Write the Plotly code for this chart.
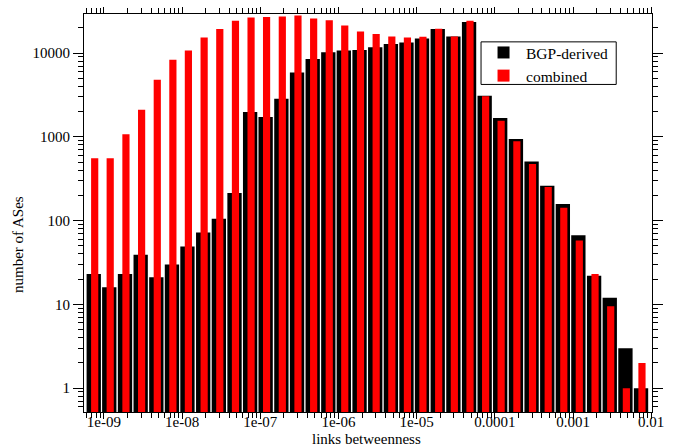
import numpy as np
import plotly.graph_objects as go

# bin centres of links betweenness (log-spaced, 5 per decade)
bin_centers = [7.41e-10, 1.17e-9, 1.86e-9, 2.95e-9, 4.68e-9,
               7.41e-9, 1.17e-8, 1.86e-8, 2.95e-8, 4.68e-8,
               7.41e-8, 1.17e-7, 1.86e-7, 2.95e-7, 4.68e-7,
               7.41e-7, 1.17e-6, 1.86e-6, 2.95e-6, 4.68e-6,
               7.41e-6, 1.17e-5, 1.86e-5, 2.95e-5, 4.68e-5,
               7.41e-5, 1.17e-4, 1.86e-4, 2.95e-4, 4.68e-4,
               7.41e-4, 1.17e-3, 1.86e-3, 2.95e-3, 4.68e-3,
               7.41e-3]

bgp_derived = [23, 16, 23, 39, 21, 30, 49, 72, 105, 214,
               1980, 1725, 2850, 5870, 8470, 10200, 10700, 10900, 11700, 12800,
               13400, 14900, 19300, 15800, 23400, 3100, 1680, 943, 509, 261,
               158, 67, 22, 12, 3, 1]

combined = [553, 553, 1070, 2100, 4800, 8300, 10700, 15300, 19300, 24300,
            26600, 26900, 27300, 28100, 25800, 24700, 21300, 18100, 16900, 15800,
            15300, 15600, 19500, 15800, 24300, 3040, 1560, 883, 475, 252,
            142, 58, 23, 9.5, 1, 2]

x_tickvals = [1e-9, 1e-8, 1e-7, 1e-6, 1e-5, 1e-4, 1e-3, 1e-2]
x_ticktext = ["1e-09", "1e-08", "1e-07", "1e-06", "1e-05", "0.0001", "0.001", "0.01"]
y_tickvals = [1, 10, 100, 1000, 10000]
y_ticktext = ["1", "10", "100", "1000", "10000"]

FONT = "Liberation Serif"


def log_bar_geom(xs, w_dec, shift_dec=0.0):
    xs = np.asarray(xs, dtype=float)
    left = xs * 10 ** (shift_dec - w_dec / 2)
    right = xs * 10 ** (shift_dec + w_dec / 2)
    return (right - left).tolist(), (left - xs).tolist()


bw, bo = log_bar_geom(bin_centers, 0.183)
rw, ro = log_bar_geom(bin_centers, 0.092, 0.012)

fig = go.Figure()
fig.add_trace(go.Bar(x=bin_centers, y=bgp_derived, width=bw, offset=bo,
                     name="BGP-derived", marker=dict(color="black", line=dict(width=0))))
fig.add_trace(go.Bar(x=bin_centers, y=combined, width=rw, offset=ro,
                     name="combined", marker=dict(color="#ff0000", line=dict(width=0))))

minor_x = [m * 10.0 ** e for e in range(-10, -1) for m in range(2, 10)]
minor_y = [m * 10.0 ** e for e in range(-1, 5) for m in range(2, 10)]

fig.update_layout(
    width=673, height=447,
    margin=dict(l=84, r=21, t=14, b=35),
    barmode="overlay",
    paper_bgcolor="white", plot_bgcolor="white",
    font=dict(family=FONT, size=15, color="black"),
    showlegend=True,
    legend=dict(x=0.699, y=0.945, xanchor="left", yanchor="top",
                borderwidth=0, bgcolor="rgba(0,0,0,0)",
                font=dict(family=FONT, size=15.5), tracegroupgap=0,
                itemwidth=35),
    shapes=[dict(type="rect", xref="paper", yref="paper",
                 x0=0.699, x1=0.937, y0=0.823, y1=0.930,
                 line=dict(color="black", width=1), fillcolor="white", layer="above")],
    xaxis=dict(type="log", range=[-9.255, -1.99], showgrid=False, zeroline=False,
               showline=True, linecolor="black", linewidth=1, mirror="allticks",
               ticks="outside", ticklen=6, tickcolor="black",
               tickmode="array", tickvals=x_tickvals, ticktext=x_ticktext,
               tickfont=dict(family=FONT, size=15), ticklabelstandoff=-10,
               minor=dict(tickmode="array", tickvals=minor_x, ticks="outside",
                          ticklen=5, tickcolor="black", showgrid=False),
               automargin=False),
    yaxis=dict(type="log", range=[-0.285, 4.466], showgrid=False, zeroline=False,
               showline=True, linecolor="black", linewidth=1, mirror="allticks",
               ticks="outside", ticklen=10, tickcolor="black",
               tickmode="array", tickvals=y_tickvals, ticktext=y_ticktext,
               tickfont=dict(family=FONT, size=15),
               minor=dict(tickmode="array", tickvals=minor_y, ticks="outside",
                          ticklen=5, tickcolor="black", showgrid=False),
               automargin=False),
    annotations=[
        dict(text="number of ASes", textangle=-90, xref="paper", yref="paper",
             x=-0.116, y=0.42, xanchor="center", yanchor="middle",
             showarrow=False, font=dict(family=FONT, size=15)),
        dict(text="links betweenness", xref="paper", yref="paper",
             x=0.498, y=-0.068, xanchor="center", yanchor="middle",
             showarrow=False, font=dict(family=FONT, size=15)),
    ],
)

fig.write_html("out.html", config={"displayModeBar": False},
               post_script="document.body.style.margin='0';document.body.style.overflow='hidden';")
